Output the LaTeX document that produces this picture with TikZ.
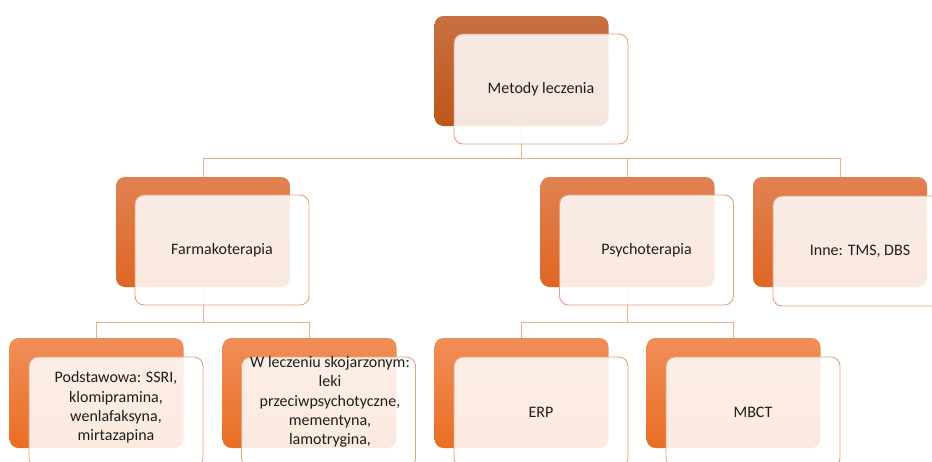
\documentclass[tikz,border=0pt]{standalone}
\usepackage{fontspec}
\setmainfont{Carlito}
\begin{document}
\begin{tikzpicture}[x=1pt,y=-1pt,
  backbox/.style={minimum width=174pt,minimum height=110pt,inner sep=0pt,rounded corners=9pt},
  lvA/.style={backbox,top color={rgb,255:red,200;green,112;blue,68},bottom color={rgb,255:red,190;green,86;blue,24}},
  lvB/.style={backbox,top color={rgb,255:red,224;green,130;blue,82},bottom color={rgb,255:red,222;green,102;blue,36}},
  lvC/.style={backbox,top color={rgb,255:red,240;green,142;blue,88},bottom color={rgb,255:red,234;green,110;blue,36}},
  frontbox/.style={minimum width=174pt,minimum height=110pt,inner sep=2pt,rounded corners=9pt,
     draw={rgb,255:red,232;green,160;blue,128},line width=0.9pt,fill=white,fill opacity=0.86,text opacity=1,
     align=center,font=\fontsize{16}{19.5}\selectfont,text={rgb,255:red,30;green,30;blue,30}},
  txt/.style={align=center,font=\fontsize{16}{19.3}\selectfont,text={rgb,255:red,30;green,30;blue,30},inner sep=0pt},
  conn/.style={draw={rgb,255:red,240;green,172;blue,144},line width=0.9pt}
]
\useasboundingbox (0,0) rectangle (932,461);
\clip (0,0) rectangle (932,461);
\fill[white] (0,0) rectangle (932,461);
\coordinate (busA) at (0,158);
\coordinate (busB) at (0,322);
% back boxes
\node[lvA] (tb) at (521.5,71) {};
\node[lvB] (fb) at (203,232) {};
\node[lvB] (pb) at (627.5,232) {};
\node[lvB] (ib) at (840,232) {};
\node[lvC] (ab) at (96.5,393) {};
\node[lvC] (bb) at (309.5,393) {};
\node[lvC] (eb) at (521.5,393) {};
\node[lvC] (mb) at (733.5,393) {};
% connectors
\draw[conn] (tb.south) -- (tb.south|-busA);
\draw[conn] (fb.north) |- (ib.north|-busA) -- (ib.north);
\draw[conn] (pb.north) -- (pb.north|-busA);
\draw[conn] (fb.south) -- (fb.south|-busB);
\draw[conn] (ab.north) |- (bb.north|-busB) -- (bb.north);
\draw[conn] (pb.south) -- (pb.south|-busB);
\draw[conn] (eb.north) |- (mb.north|-busB) -- (mb.north);
% front boxes
\node[frontbox] (tf) at (541,89) {Metody leczenia};
\node[frontbox] (ff) at (222,250) {Farmakoterapia};
\node[frontbox] (pf) at (646.5,250) {Psychoterapia};
\node[frontbox] (inf) at (860,251) {Inne: TMS, DBS};
\node[frontbox] (af) at (116,412) {};
\node[frontbox] (bf) at (328.5,412) {};
\node[frontbox] (ef) at (541,412) {ERP};
\node[frontbox] (mf) at (753,412) {MBCT};
\node[txt] (at) at (116,407.5) {Podstawowa: SSRI,\\klomipramina,\\wenlafaksyna,\\mirtazapina};
\node[txt] (bt) at (330,402) {W leczeniu skojarzonym:\\leki\\przeciwpsychotyczne,\\mementyna,\\lamotrygina,};
\end{tikzpicture}
\end{document}
